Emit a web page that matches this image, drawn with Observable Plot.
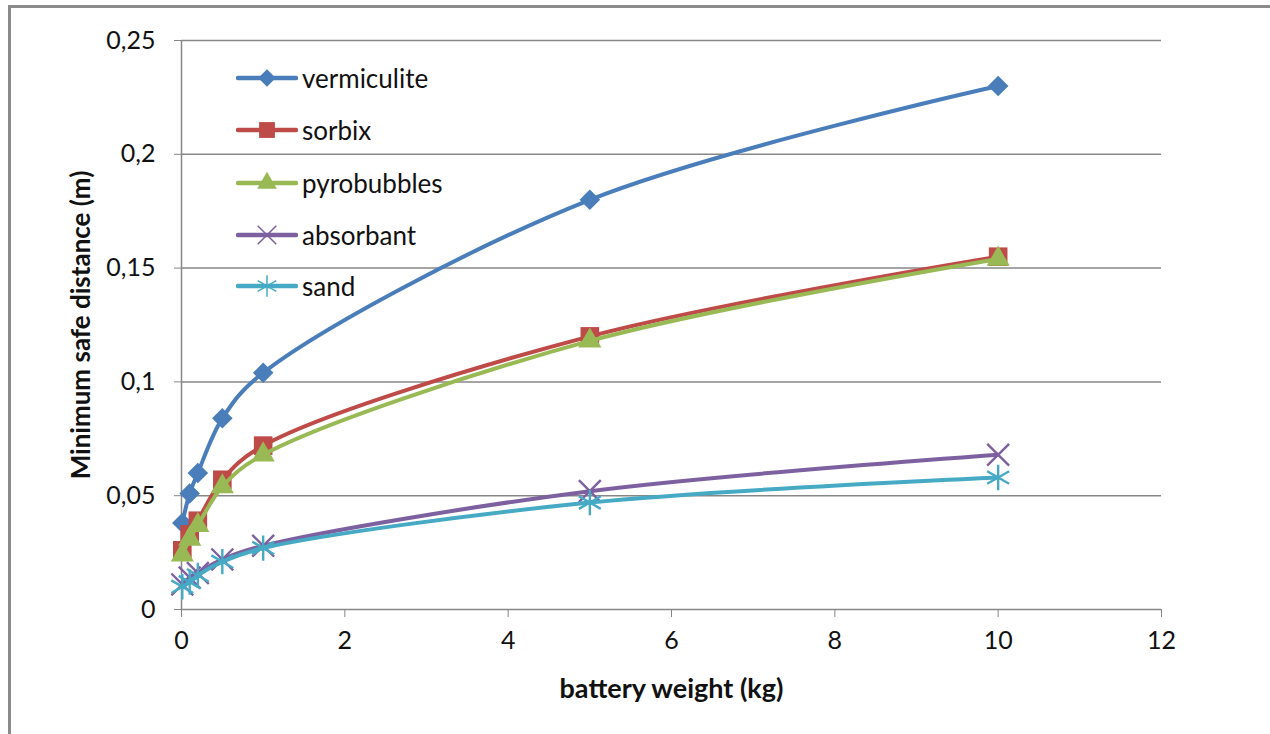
<!DOCTYPE html>
<html>
<head>
<meta charset="utf-8">
<script src="https://cdn.jsdelivr.net/npm/d3@7"></script>
<script src="https://cdn.jsdelivr.net/npm/@observablehq/plot@0.6"></script>
<style>
  html, body { margin: 0; padding: 0; background: #fff; }
  #wrap { position: relative; width: 1270px; height: 734px; overflow: hidden; font-family: Lato, "Open Sans", sans-serif; }
  #frame { position: absolute; left: 8px; top: 5px; right: -10px; bottom: -10px; border-left: 3px solid #8a8a8a; border-top: 3px solid #8a8a8a; }
  #chart { position: absolute; left: 0; top: 0; }
  #legend { position: absolute; left: 236px; top: 60px; }
  .item { position: absolute; left: 0; height: 36px; display: flex; align-items: center; white-space: nowrap; }
  .item span { font-size: 26px; color: #111; margin-left: 4px; }
</style>
</head>
<body>
<div id="wrap">
  <div id="frame"></div>
  <div id="chart"></div>
  <div id="legend"></div>
</div>
<script>
const weights = [0.01, 0.1, 0.2, 0.5, 1, 5, 10];
const materials = ["vermiculite", "sorbix", "pyrobubbles", "absorbant", "sand"];
const vermiculite = [0.038, 0.051, 0.060, 0.084, 0.104, 0.180, 0.230];
const sorbix      = [0.026, 0.033, 0.039, 0.057, 0.072, 0.120, 0.155];
const pyrobubbles = [0.024, 0.031, 0.037, 0.054, 0.068, 0.118, 0.154];
const absorbant   = [0.011, 0.014, 0.016, 0.022, 0.028, 0.052, 0.068];
const sand        = [0.010, 0.012, 0.015, 0.021, 0.027, 0.047, 0.058];
const xTicks = [0, 2, 4, 6, 8, 10, 12];
const yTicks = [0, 0.05, 0.1, 0.15, 0.2, 0.25];
const colors = ["#4a7ebb", "#be4b48", "#98b954", "#7d60a0", "#46aac5"];

const valuesBy = {vermiculite, sorbix, pyrobubbles, absorbant, sand};
const data = materials.flatMap(m => weights.map((w, j) => ({material: m, weight: w, distance: valuesBy[m][j]})));

const markerStyle = {
  vermiculite: {symbol: "square", r: 8.2, rotate: 45, filled: true},
  sorbix:      {symbol: "square", r: 10.5, rotate: 0, filled: true},
  pyrobubbles: {symbol: "triangle", r: 8.6, rotate: 0, filled: true},
  absorbant:   {symbol: "times", r: 10, rotate: 0, filled: false},
  sand:        {symbol: "asterisk", r: 12, rotate: 0, filled: false}
};

const fmt = d => d === 0 ? "0" : String(d).replace(".", ",");
const grid = "#878787";

const marks = [
  Plot.gridY(yTicks, {stroke: grid, strokeOpacity: 1, strokeWidth: 1.5}),
  Plot.ruleX([0], {y1: 0, y2: 0.25, stroke: grid, strokeWidth: 1.5}),
  Plot.axisY({ticks: yTicks, tickFormat: fmt, tickSize: 7, tickPadding: 19, stroke: grid, fill: "#111", label: null, fontSize: 25}),
  Plot.axisX({ticks: xTicks, tickSize: 8, tickPadding: 14, stroke: grid, fill: "#111", label: null, fontSize: 25}),
  Plot.text(["battery weight (kg)"], {frameAnchor: "bottom", textAnchor: "middle", dy: 88, fontWeight: "bold", fontSize: 27, fill: "#111"}),
  Plot.text(["Minimum safe distance (m)"], {frameAnchor: "left", textAnchor: "middle", dx: -100, rotate: -90, fontWeight: "bold", fontSize: 26, fill: "#111"})
];

materials.forEach((m, i) => {
  const rows = data.filter(d => d.material === m);
  const s = markerStyle[m];
  marks.push(Plot.line(rows, {x: "weight", y: "distance", stroke: colors[i], strokeWidth: 4, curve: "catmull-rom"}));
  marks.push(Plot.dot(rows, {
    x: "weight", y: "distance", symbol: () => s.symbol, r: s.r, rotate: s.rotate,
    fill: s.filled ? colors[i] : "none", stroke: s.filled ? "none" : colors[i], strokeWidth: 2.4
  }));
});

const chart = Plot.plot({
  width: 1270,
  height: 734,
  marginLeft: 181,
  marginRight: 109,
  marginTop: 40,
  marginBottom: 125,
  style: {fontFamily: "Lato, 'Open Sans', sans-serif", fontSize: "25px", background: "transparent"},
  x: {domain: [0, 12]},
  y: {domain: [0, 0.25]},
  symbol: {type: "identity"},
  marks
});
document.getElementById("chart").appendChild(chart);

// legend
const legend = document.getElementById("legend");
const rowY = [0, 52, 105, 157, 208];
materials.forEach((m, i) => {
  const s = markerStyle[m];
  const item = document.createElement("div");
  item.className = "item";
  item.style.top = rowY[i] + "px";
  const svg = d3.create("svg").attr("width", 62).attr("height", 36);
  svg.append("line").attr("x1", 2).attr("x2", 60).attr("y1", 18).attr("y2", 18)
    .attr("stroke", colors[i]).attr("stroke-width", 4.5).attr("stroke-linecap", "round");
  const symMap = {square: d3.symbolSquare, triangle: d3.symbolTriangle, times: d3.symbolTimes, asterisk: d3.symbolAsterisk};
  const size = Math.PI * (s.r * 0.85) ** 2;
  svg.append("path").attr("d", d3.symbol(symMap[s.symbol], size)())
    .attr("transform", `translate(31,18) rotate(${s.rotate})`)
    .attr("fill", s.filled ? colors[i] : "none")
    .attr("stroke", s.filled ? "none" : colors[i])
    .attr("stroke-width", 1.5);
  item.appendChild(svg.node());
  const span = document.createElement("span");
  span.textContent = m;
  item.appendChild(span);
  legend.appendChild(item);
});
</script>
</body>
</html>
